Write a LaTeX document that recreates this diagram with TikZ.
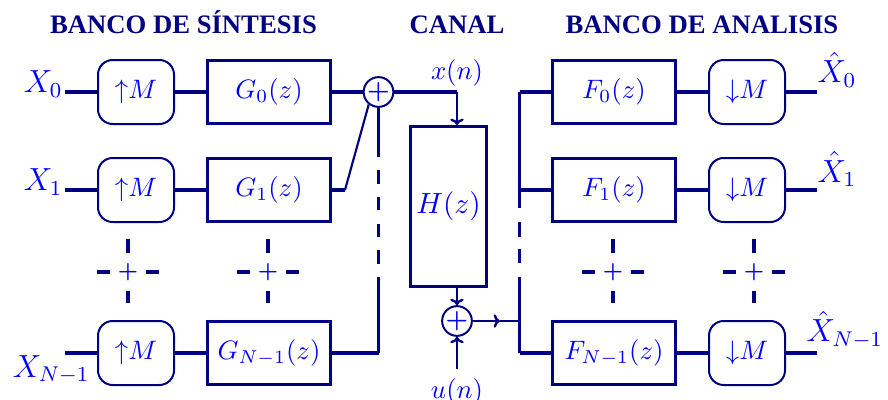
\documentclass[tikz,border=0pt]{standalone}
\usepackage{fontspec}
\newfontfamily\titlefont{Liberation Serif}
\usetikzlibrary{arrows.meta}
\definecolor{navy}{RGB}{0,0,128}
\definecolor{txtblue}{RGB}{0,0,255}
\begin{document}
\begin{tikzpicture}[x=0.375pt,y=-0.375pt,
  >={To[length=2.4pt,width=5pt]},
  conn/.style={draw=navy,line width=1.25pt},
  thinconn/.style={draw=navy,line width=0.9pt},
  diag/.style={draw=navy,line width=0.8pt},
  filt/.style={draw=navy,line width=1.1pt,fill=white,minimum width=46.1pt,minimum height=23.6pt,inner sep=0pt,text=txtblue},
  rate/.style={draw=navy,line width=0.75pt,fill=white,rounded corners=5.5pt,minimum width=28.5pt,minimum height=24pt,inner sep=0pt,text=txtblue},
  chan/.style={draw=navy,line width=1.1pt,fill=white,minimum width=28.5pt,minimum height=60pt,inner sep=0pt,text=txtblue,font=\fontsize{11}{13}\selectfont},
  summ/.style={draw=navy,line width=0.75pt,fill=white,circle,minimum size=10.9pt,inner sep=0pt,text=txtblue,font=\fontsize{9.5}{10}\selectfont\bfseries},
  lbl/.style={text=txtblue,inner sep=0pt,font=\large},
  sig/.style={text=txtblue},
  ttl/.style={text=navy,font=\titlefont\bfseries\fontsize{10}{12}\selectfont,inner sep=0pt,anchor=base},
  dotplus/.style={text=txtblue,inner sep=0pt,font=\fontsize{8}{8}\selectfont\bfseries},
  dotline/.style={draw=navy,line width=1.3pt}]
\useasboundingbox (0,0) rectangle (888,400);

% titles
\node[ttl] (t1) at (183.5,33) {BANCO DE SÍNTESIS};
\node[ttl] (t2) at (457,33) {CANAL};
\node[ttl] (t3) at (702,33) {BANCO DE ANALISIS};

% synthesis bank
\node[rate] (up0) at (136,92) {${\uparrow}M$};
\node[rate] (up1) at (136,190) {${\uparrow}M$};
\node[rate] (upN) at (136,353) {${\uparrow}M$};
\node[filt] (g0) at (269,92) {$G_0(z)$};
\node[filt] (g1) at (269,190) {$G_1(z)$};
\node[filt] (gN) at (269,353) {$G_{N-1}(z)$};
\node[summ] (s1) at (378.5,92) {+};

\coordinate (in0) at (65,92);
\coordinate (in1) at (65,190);
\coordinate (inN) at (65,353);
\node[lbl,anchor=base east] (X0) at (63,93) {$X_0$};
\node[lbl,anchor=base east] (X1) at (63,191) {$X_1$};
\node[lbl,anchor=base east] (XN) at (90,377) {$X_{N-1}$};

\draw[conn] (in0) -- (up0) -- (g0) -- (s1);
\draw[conn] (in1) -- (up1) -- (g1);
\draw[conn] (inN) -- (upN) -- (gN);
\coordinate (g1k) at (345,190);
\draw[conn] (g1.east) -- (g1k);
\draw[diag] (g1k) -- (s1.232);
\coordinate (cN) at (378.5,353);
\draw[conn] (gN.east) -- (cN);
\draw[thinconn,dash pattern=on 18.4pt off 5pt on 5pt off 5pt on 5pt off 5pt on 5pt off 5pt on 5pt off 5pt on 200pt] (s1.south) -- (cN);

% channel
\node[chan] (H) at (448.5,206.5) {$H(z)$};
\coordinate (xc) at (457,92);
\node[sig,anchor=base] (xn) at (457,79) {$x(n)$};
\draw[conn] (s1.east) -- (xc);
\draw[thinconn,->] (xc) -- (xc |- H.north);
\node[summ] (s2) at (457,321) {+};
\draw[thinconn,->] (H.south -| s2) -- (s2.north);
\node[sig,anchor=north] (un) at (457,369) {$u(n)$};
\draw[thinconn,->] (un.north) -- (s2.south);
\coordinate (s2m) at (500,321);
\coordinate (br2) at (519.5,321);
\draw[thinconn,->] (s2.east) -- (s2m);
\draw[thinconn] (s2m) -- (br2);

% analysis bank
\node[filt] (f0) at (614,92) {$F_0(z)$};
\node[filt] (f1) at (614,190) {$F_1(z)$};
\node[filt] (fN) at (614,353) {$F_{N-1}(z)$};
\node[rate] (d0) at (747,92) {${\downarrow}M$};
\node[rate] (d1) at (747,190) {${\downarrow}M$};
\node[rate] (dN) at (747,353) {${\downarrow}M$};
\coordinate (br0) at (519.5,92);
\coordinate (br1) at (519.5,190);
\coordinate (brN) at (519.5,353);
\draw[thinconn,dash pattern=on 43.5pt off 5.25pt on 5.6pt off 4.5pt on 5.25pt off 5.25pt on 200pt] (br0) -- (brN);
\draw[conn] (br0) -- (f0) -- (d0);
\draw[conn] (br1) -- (f1) -- (d1);
\draw[conn] (brN) -- (fN) -- (dN);
\coordinate (out0) at (817,92);
\coordinate (out1) at (817,190);
\coordinate (outN) at (817,353);
\draw[conn] (d0) -- (out0);
\draw[conn] (d1) -- (out1);
\draw[conn] (dN) -- (outN);
\node[lbl,anchor=base west] (Y0) at (817,83) {$\hat{X}_0$};
\node[lbl,anchor=base west] (Y1) at (817,182) {$\hat{X}_1$};
\node[lbl,anchor=base west] (YN) at (806,342) {$\hat{X}_{N-1}$};

% continuation marks
\node[dotplus] (p1) at (128,272) {+};
\node[dotplus] (p2) at (268,272) {+};
\node[dotplus] (p3) at (613,272) {+};
\node[dotplus] (p4) at (754,272) {+};
\foreach \p in {p1,p2,p3,p4}{
  \draw[dotline] ([xshift=-11.6pt]\p.center) -- ([xshift=-6.8pt]\p.center);
  \draw[dotline] ([xshift=6.8pt]\p.center) -- ([xshift=11.6pt]\p.center);
  \draw[dotline] ([yshift=12.4pt]\p.center) -- ([yshift=7pt]\p.center);
  \draw[dotline] ([yshift=-7pt]\p.center) -- ([yshift=-11.8pt]\p.center);
}
\end{tikzpicture}
\end{document}
